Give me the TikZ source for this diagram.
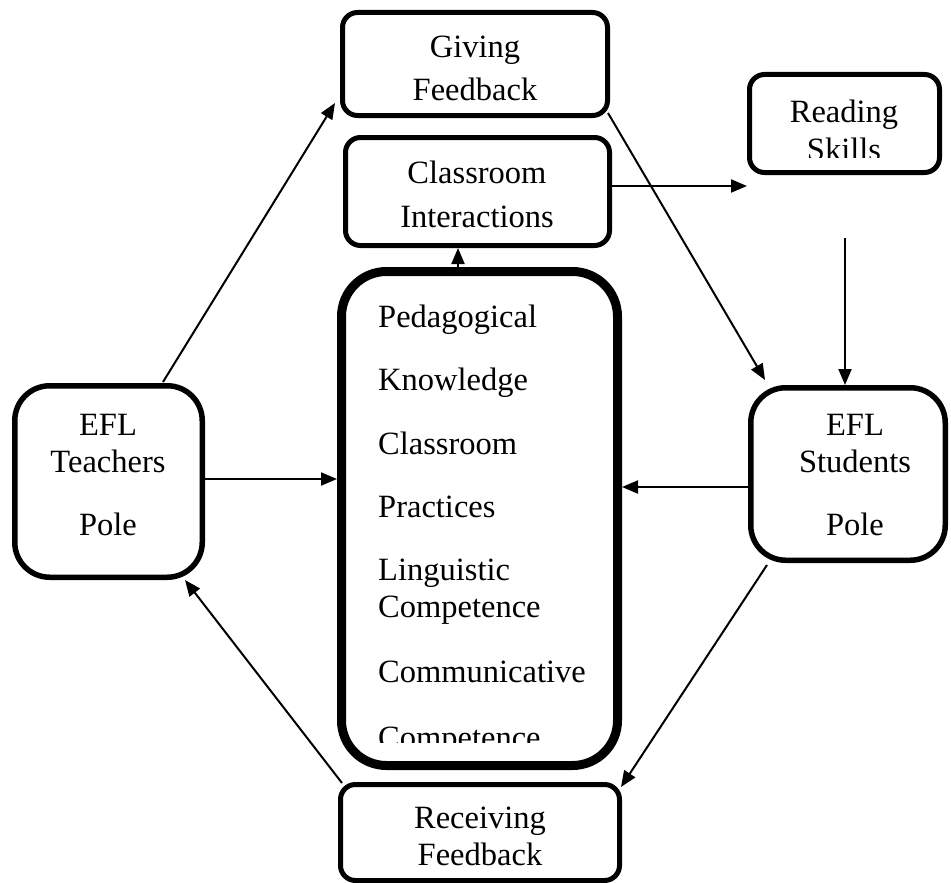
\documentclass[tikz,border=0pt]{standalone}
\usepackage{fontspec}
\setmainfont{Liberation Serif}
\usetikzlibrary{arrows.meta,calc}
\begin{document}
\begin{tikzpicture}[x=1pt,y=-1pt,
 box/.style={draw, line width=5pt, rounded corners=15pt, inner sep=0pt, fill=white},
 pole/.style={draw, line width=5.5pt, rounded corners=35pt, inner sep=0pt, fill=white},
 big/.style={draw, line width=9pt, rounded corners=45pt, inner sep=0pt, fill=white},
 txt/.style={font=\fontsize{32.5}{38}\selectfont, inner sep=0pt, anchor=base},
 ltxt/.style={txt, anchor=base west},
 arr/.style={line width=2pt, -{Triangle[length=16pt,width=13pt]}}]
\useasboundingbox (0,0) rectangle (951,883);
% boxes
\node[box, minimum width=265pt, minimum height=103pt] (gf) at (475,64) {};
\node[box, minimum width=264pt, minimum height=108pt] (ci) at (477.5,191.5) {};
\node[big, minimum width=276pt, minimum height=494pt] (pk) at (479.5,518.5) {};
\node[box, minimum width=279pt, minimum height=96pt] (rf) at (480,832.5) {};
\node[box, minimum width=190pt, minimum height=98pt] (rs) at (844.5,123.5) {};
\node[pole, minimum width=187.5pt, minimum height=191.5pt] (tp) at (108.5,481.5) {};
\node[pole, minimum width=194.5pt, minimum height=172.5pt] (sp) at (848,474) {};
% texts
\node[txt] (gf1) at (475,58) {Giving};
\node[txt] (gf2) at (475,100) {Feedback};
\node[txt] (ci1) at (477,183) {Classroom};
\node[txt] (ci2) at (477,227) {Interactions};
\node[txt] (rs1) at (844,122) {Reading};
\begin{scope}
\clip (700,130) rectangle (951,157);
\node[txt] (rs2) at (844,160) {Skills};
\end{scope}
\node[txt] (tp1) at (108,435) {EFL};
\node[txt] (tp2) at (108,472) {Teachers};
\node[txt] (tp3) at (108,535) {Pole};
\node[txt] (sp1) at (855,435) {EFL};
\node[txt] (sp2) at (855,472) {Students};
\node[txt] (sp3) at (855,535) {Pole};
\node[txt] (rf1) at (480,828) {Receiving};
\node[txt] (rf2) at (480,865) {Feedback};
\node[ltxt] (pk1) at (378,327) {Pedagogical};
\node[ltxt] (pk2) at (378,390) {Knowledge};
\node[ltxt] (pk3) at (378,454) {Classroom};
\node[ltxt] (pk4) at (378,517) {Practices};
\node[ltxt] (pk5) at (378,580) {Linguistic};
\node[ltxt] (pk6) at (378,617) {Competence};
\node[ltxt] (pk7) at (378,682) {Communicative};
\begin{scope}
\clip (360,700) rectangle (610,742);
\node[ltxt] (pk8) at (378,748) {Competence};
\end{scope}
% free ends
\coordinate (rsin) at (747,186);
\coordinate (rsout) at (845,238);
% connectors
\draw[arr] ($(tp.north)+(54.5,-1)$) -- ($(gf.west)+(-5,39)$);
\draw[arr] ($(gf.south east)+(-2,-5)$) -- ($(sp.north west)+(17,-5)$);
\draw[arr] ($(ci.east)+(0,-5.5)$) -- (rsin);
\draw[arr] (rsout) -- (rsout |- sp.north);
\draw[arr] ($(pk.north)+(-21.5,0)$) -- ($(ci.south)+(-19.5,0)$);
\draw[arr] ($(tp.east)+(0,-2.5)$) -- ($(pk.west)+(0,-39.5)$);
\draw[arr] ($(sp.west)+(0,13)$) -- ($(pk.east)+(0,-31.5)$);
\draw[arr] ($(sp.south west)+(19,2)$) -- ($(rf.north east)+(-1,5)$);
\draw[arr] ($(rf.north west)+(4,1)$) -- ($(tp.south east)+(-20,0)$);
\end{tikzpicture}
\end{document}
